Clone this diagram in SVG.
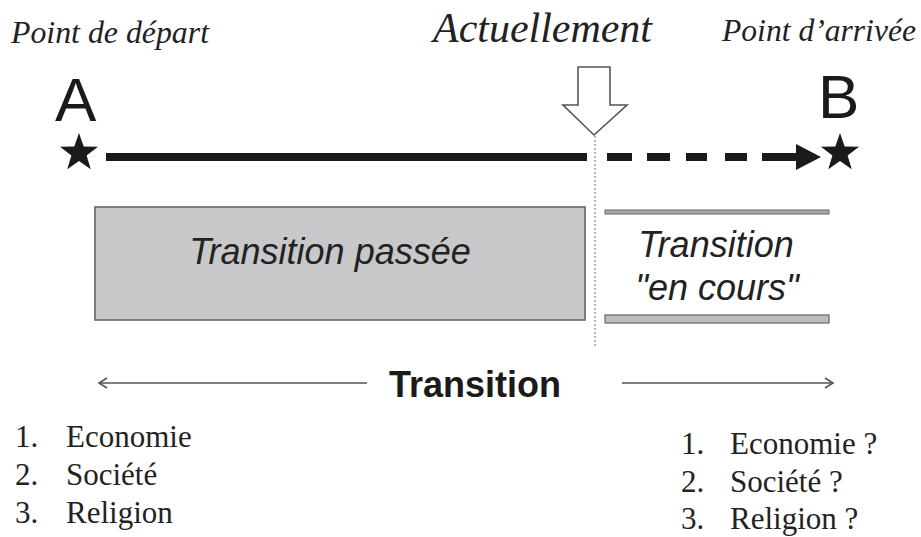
<svg xmlns="http://www.w3.org/2000/svg" xmlns:xlink="http://www.w3.org/1999/xlink" width="921" height="537" viewBox="0 0 921 537">
<style>
.lbl{font-family:"Liberation Serif","Times New Roman",serif;font-style:italic;fill:#222}
.big{font-family:"Liberation Sans",Arial,sans-serif;fill:#1a1a1a}
.box{font-family:"Liberation Sans",Arial,sans-serif;font-style:italic;font-size:36px;fill:#222;text-anchor:middle}
.list{font-family:"Liberation Serif","Times New Roman",serif;font-size:31px;fill:#222}
.thin{stroke:#555;stroke-width:1.6;fill:none}
</style>
<defs>
<polygon id="star" points="0,-20 4.7,-6.47 19.02,-6.18 7.61,2.47 11.76,16.18 0,8 -11.76,16.18 -7.61,2.47 -19.02,-6.18 -4.7,-6.47" fill="#1a1a1a"/>
</defs>
<rect width="921" height="537" fill="#fff"/>

<g id="labels-top">
<text class="lbl" x="11" y="43" font-size="31" textLength="198" lengthAdjust="spacingAndGlyphs">Point de départ</text>
<text class="lbl" x="433" y="42" font-size="42" textLength="219" lengthAdjust="spacingAndGlyphs">Actuellement</text>
<text class="lbl" x="722" y="41" font-size="31" textLength="194" lengthAdjust="spacingAndGlyphs">Point d’arrivée</text>
</g>

<g id="nodeA">
<text class="big" x="55" y="121" font-size="62">A</text>
<use xlink:href="#star" href="#star" x="79" y="153"/>
</g>
<g id="nodeB">
<text class="big" x="818" y="118" font-size="62">B</text>
<use xlink:href="#star" href="#star" x="840" y="153"/>
</g>

<g id="connectors">
<rect x="106" y="153" width="481" height="8" fill="#1a1a1a"/>
<g fill="#1a1a1a">
<rect x="607" y="153" width="25" height="8"/>
<rect x="647" y="153" width="23" height="8"/>
<rect x="686" y="153" width="21" height="8"/>
<rect x="725" y="153" width="22" height="8"/>
<rect x="762" y="153" width="36" height="8"/>
<polygon points="796,144 821,157 796,170"/>
</g>
<line x1="595" y1="136" x2="595" y2="346" stroke="#666" stroke-width="1" stroke-dasharray="2,2"/>
<line class="thin" x1="99" y1="383" x2="367" y2="383"/>
<polyline class="thin" points="107,378 99,383 107,388" stroke-width="2"/>
<line class="thin" x1="622" y1="383" x2="833" y2="383"/>
<polyline class="thin" points="825,378 833,383 825,388" stroke-width="2"/>
</g>

<g id="now-arrow">
<polygon points="578,67 610,67 610,105 627,105 594,135 563,105 578,105" fill="#fff" stroke="#555" stroke-width="1.6"/>
</g>

<g id="past">
<rect x="95" y="207" width="490" height="113" fill="#c8c8ca" stroke="#666" stroke-width="1.6"/>
<text class="box" x="330" y="264">Transition passée</text>
</g>

<g id="current">
<rect x="605" y="210" width="224" height="4" fill="#aaa" stroke="#666" stroke-width="1"/>
<rect x="605" y="315" width="224" height="8" fill="#bdbdbf" stroke="#666" stroke-width="1.2"/>
<text class="box" x="716" y="257">Transition</text>
<text class="box" x="717" y="300">"en cours"</text>
</g>

<g id="transition-label">
<text class="big" x="475" y="397" font-size="36" font-weight="bold" text-anchor="middle">Transition</text>
</g>

<g id="list-left">
<text class="list" x="15" y="447">1.</text><text class="list" x="66" y="447">Economie</text>
<text class="list" x="15" y="485">2.</text><text class="list" x="66" y="485">Société</text>
<text class="list" x="15" y="523">3.</text><text class="list" x="66" y="523">Religion</text>
</g>
<g id="list-right">
<text class="list" x="681" y="454">1.</text><text class="list" x="730" y="454">Economie ?</text>
<text class="list" x="681" y="492">2.</text><text class="list" x="730" y="492">Société ?</text>
<text class="list" x="681" y="529">3.</text><text class="list" x="730" y="529">Religion ?</text>
</g>
</svg>
